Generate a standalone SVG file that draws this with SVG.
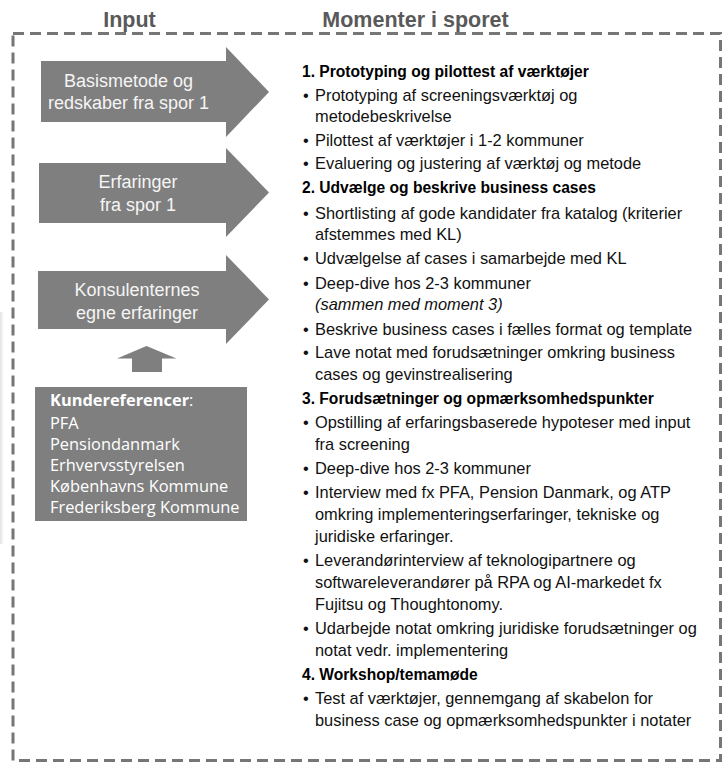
<svg xmlns="http://www.w3.org/2000/svg" width="723" height="762" viewBox="0 0 723 762">
  <defs>
    <linearGradient id="edge" x1="0" y1="0" x2="1" y2="0">
      <stop offset="0" stop-color="#e2e2e2"/>
      <stop offset="1" stop-color="#ffffff"/>
    </linearGradient>
  </defs>
  <style>
    .hdr{font-family:"Liberation Sans",Arial,sans-serif;font-weight:bold;font-size:21.5px;fill:#595959;text-anchor:middle}
    .shape{fill:#7f7f7f}
    .atxt{font-family:"Liberation Sans",Arial,sans-serif;font-size:18px;fill:#f5f5f5;text-anchor:middle}
    .btxt{font-family:"Open Sans","Liberation Sans",sans-serif;font-size:16.4px;fill:#ffffff}
    .h{font-family:"Liberation Sans",Arial,sans-serif;font-weight:bold;font-size:15.6px;fill:#000000}
    .t{font-family:"Liberation Sans",Arial,sans-serif;font-size:16.4px;fill:#111111}
    .it{font-style:italic}
    .frame{fill:none;stroke:#767676;stroke-width:3;stroke-dasharray:11 6}
  </style>
  <rect width="723" height="762" fill="#ffffff"/>
  <rect x="0" y="312" width="4" height="232" fill="url(#edge)"/>

  <g id="frame">
    <rect class="frame" x="13" y="33.5" width="707.5" height="727"/>
  </g>

  <g id="headers">
    <text class="hdr" x="129.5" y="27">Input</text>
    <text class="hdr" x="415.5" y="27">Momenter i sporet</text>
  </g>

  <g id="arrow1">
    <path class="shape" d="M41,61 H226 V47 L269,92 L226,137 V122 H41 Z"/>
    <text class="atxt" x="128.5" y="86.5">Basismetode og</text>
    <text class="atxt" x="128.5" y="108.5">redskaber fra spor 1</text>
  </g>

  <g id="arrow2">
    <path class="shape" d="M39,163 H226 V148 L269,192.5 L226,237 V223 H39 Z"/>
    <text class="atxt" x="138" y="188">Erfaringer</text>
    <text class="atxt" x="138" y="210.5">fra spor 1</text>
  </g>

  <g id="arrow3">
    <path class="shape" d="M38,271 H226 V255 L269,299.5 L226,344 V329 H38 Z"/>
    <text class="atxt" x="137" y="295.5">Konsulenternes</text>
    <text class="atxt" x="137" y="318.5">egne erfaringer</text>
  </g>

  <g id="connectors">
    <path class="shape" d="M146.5,346 L176.5,358.5 H162 V372 H132 V358.5 H117 Z"/>
  </g>

  <g id="kundereferencer">
    <rect class="shape" x="35" y="387" width="212" height="134"/>
    <text class="btxt" x="50" y="406"><tspan font-weight="bold">Kundereferencer</tspan>:</text>
    <text class="btxt" x="50" y="429">PFA</text>
    <text class="btxt" x="50" y="450">Pensiondanmark</text>
    <text class="btxt" x="50" y="471">Erhvervsstyrelsen</text>
    <text class="btxt" x="50" y="492">Københavns Kommune</text>
    <text class="btxt" x="50" y="513">Frederiksberg Kommune</text>
  </g>

  <g id="moment1">
    <text class="h" x="302" y="77">1. Prototyping og pilottest af værktøjer</text>
    <text class="t" x="303" y="101">•</text><text class="t" x="315" y="101">Prototyping af screeningsværktøj og</text>
    <text class="t" x="315" y="122">metodebeskrivelse</text>
    <text class="t" x="303" y="146">•</text><text class="t" x="315" y="146">Pilottest af værktøjer i 1-2 kommuner</text>
    <text class="t" x="303" y="169">•</text><text class="t" x="315" y="169">Evaluering og justering af værktøj og metode</text>
  </g>

  <g id="moment2">
    <text class="h" x="302" y="193">2. Udvælge og beskrive business cases</text>
    <text class="t" x="303" y="219">•</text><text class="t" x="315" y="219">Shortlisting af gode kandidater fra katalog (kriterier</text>
    <text class="t" x="315" y="240">afstemmes med KL)</text>
    <text class="t" x="303" y="264">•</text><text class="t" x="315" y="264">Udvælgelse af cases i samarbejde med KL</text>
    <text class="t" x="303" y="289">•</text><text class="t" x="315" y="289">Deep-dive hos 2-3 kommuner</text>
    <text class="t it" x="315" y="310">(sammen med moment 3)</text>
    <text class="t" x="303" y="335">•</text><text class="t" x="315" y="335">Beskrive business cases i fælles format og template</text>
    <text class="t" x="303" y="358">•</text><text class="t" x="315" y="358">Lave notat med forudsætninger omkring business</text>
    <text class="t" x="315" y="380">cases og gevinstrealisering</text>
  </g>

  <g id="moment3">
    <text class="h" x="302" y="404">3. Forudsætninger og opmærksomhedspunkter</text>
    <text class="t" x="303" y="428">•</text><text class="t" x="315" y="428">Opstilling af erfaringsbaserede hypoteser med input</text>
    <text class="t" x="315" y="450">fra screening</text>
    <text class="t" x="303" y="474">•</text><text class="t" x="315" y="474">Deep-dive hos 2-3 kommuner</text>
    <text class="t" x="303" y="498">•</text><text class="t" x="315" y="498">Interview med fx PFA, Pension Danmark, og ATP</text>
    <text class="t" x="315" y="520">omkring implementeringserfaringer, tekniske og</text>
    <text class="t" x="315" y="542">juridiske erfaringer.</text>
    <text class="t" x="303" y="566">•</text><text class="t" x="315" y="566">Leverandørinterview af teknologipartnere og</text>
    <text class="t" x="315" y="588">softwareleverandører på RPA og AI-markedet fx</text>
    <text class="t" x="315" y="610">Fujitsu og Thoughtonomy.</text>
    <text class="t" x="303" y="634">•</text><text class="t" x="315" y="634">Udarbejde notat omkring juridiske forudsætninger og</text>
    <text class="t" x="315" y="656">notat vedr. implementering</text>
  </g>

  <g id="moment4">
    <text class="h" x="302" y="680">4. Workshop/temamøde</text>
    <text class="t" x="303" y="704">•</text><text class="t" x="315" y="704">Test af værktøjer, gennemgang af skabelon for</text>
    <text class="t" x="315" y="726">business case og opmærksomhedspunkter i notater</text>
  </g>
</svg>
